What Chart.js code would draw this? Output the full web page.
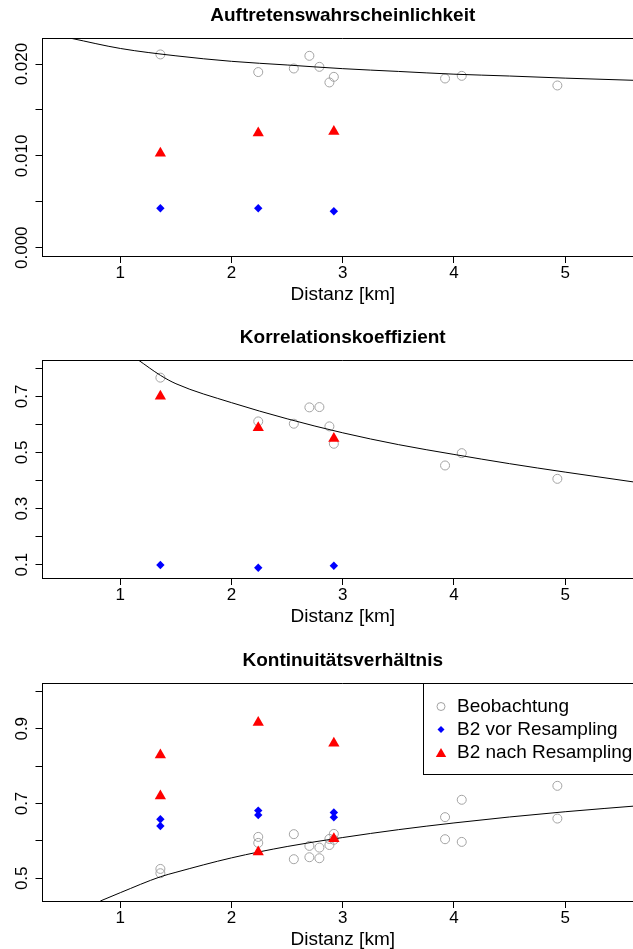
<!DOCTYPE html>
<html>
<head>
<meta charset="utf-8">
<script src="https://cdn.jsdelivr.net/npm/chart.js@4.4.0/dist/chart.umd.min.js"></script>
<style>
  html, body { margin: 0; padding: 0; background: #fff; overflow: hidden; width: 633px; height: 949px; }
  .panel { position: absolute; left: 0; width: 643px; height: 322px; }
</style>
</head>
<body>
<div class="panel" style="top:0px"><canvas id="c1" width="643" height="322"></canvas></div>
<div class="panel" style="top:322px"><canvas id="c2" width="643" height="322"></canvas></div>
<div class="panel" style="top:645px"><canvas id="c3" width="643" height="322"></canvas></div>
<script>
const FONT = '"Liberation Sans", Arial, Helvetica, sans-serif';

// shared x values (Distanz in km)
const distanz = [1.36, 2.24, 2.56, 2.70, 2.79, 2.88, 2.92, 3.92, 4.07, 4.93];
const distanzB2 = [1.36, 2.24, 2.92];
const xTicks = [1, 2, 3, 4, 5];

// Auftretenswahrscheinlichkeit
const auftretenBeob = [0.02105, 0.01913, 0.01952, 0.0209, 0.0197, 0.0180, 0.01861, 0.01843, 0.01872, 0.01767];
const auftretenVor = [0.0043, 0.0043, 0.00397];
const auftretenNach = [0.01029, 0.0125, 0.01266];
const auftretenKurveX = [0.56, 1, 1.5, 2, 2.5, 3, 3.5, 4, 4.5, 5, 5.7];
const auftretenKurveY = [0.0228, 0.0217, 0.0209, 0.0203, 0.0199, 0.0195, 0.0192, 0.0189, 0.0187, 0.01847, 0.0182];
const auftretenYTicks = [0, 0.005, 0.01, 0.015, 0.02];
const auftretenYLabels = ['0.000', '', '0.010', '', '0.020'];

// Korrelationskoeffizient
const korrBeob = [0.7667, 0.6107, 0.6025, 0.6607, 0.6618, 0.593, 0.531, 0.4536, 0.4975, 0.406];
const korrVor = [0.0989, 0.0893, 0.0964];
const korrNach = [0.700, 0.588, 0.5496];
const korrKurveX = [1.16, 1.36, 1.5, 2, 2.5, 3, 3.5, 4, 4.5, 5, 5.7];
const korrKurveY = [0.83, 0.775, 0.745, 0.6775, 0.62, 0.570, 0.528, 0.493, 0.46, 0.43, 0.39];
const korrYTicks = [0.1, 0.2, 0.3, 0.4, 0.5, 0.6, 0.7, 0.8];
const korrYLabels = ['0.1', '', '0.3', '', '0.5', '', '0.7', ''];

// Kontinuitaetsverhaeltnis (two values per distance)
const kontBeobA = [0.525, 0.6107, 0.618, 0.5866, 0.582, 0.6053, 0.6187, 0.6635, 0.71, 0.7473];
const kontBeobB = [0.5135, 0.5946, 0.551, 0.5563, 0.5536, 0.589, 0.603, 0.6045, 0.5973, 0.6597];
const kontVorA = [0.658, 0.681, 0.676];
const kontVorB = [0.640, 0.669, 0.663];
const kontNachA = [0.8295, 0.9169, 0.861];
const kontNachB = [0.720, 0.5705, 0.606];
const kontKurveX = [0.82, 1, 1.36, 1.5, 2, 2.5, 3, 3.5, 4, 4.5, 5, 5.7];
const kontKurveY = [0.4392, 0.4615, 0.504, 0.516, 0.5546, 0.585, 0.609, 0.630, 0.648, 0.664, 0.678, 0.695];
const kontYTicks = [0.5, 0.6, 0.7, 0.8, 0.9, 1.0];
const kontYLabels = ['0.5', '', '0.7', '', '0.9', ''];

const legendLabels = ['Beobachtung', 'B2 vor Resampling', 'B2 nach Resampling'];

function pts(xs, ys) {
    return ys.map((y, i) => ({ x: xs[i], y: y }));
}

const obsStyle = { pointStyle: 'circle', pointRadius: 4.5, pointBorderWidth: 1, pointBorderColor: '#a3a3a3', pointBackgroundColor: 'rgba(0,0,0,0)' };
const vorStyle = { pointStyle: 'rectRot', pointRadius: 4.2, pointBorderWidth: 0, pointBorderColor: '#0000ff', pointBackgroundColor: '#0000ff' };
const nachStyle = { pointStyle: 'triangle', pointRadius: 6.5, pointBorderWidth: 0, pointBorderColor: '#ff0000', pointBackgroundColor: '#ff0000' };

// draws title, rotated y labels, top frame line and (optionally) legend
const framePlugin = {
    id: 'frame',
    afterDraw(chart, args, opts) {
        const ctx = chart.ctx;
        const area = chart.chartArea;
        ctx.save();
        ctx.strokeStyle = '#000';
        ctx.lineWidth = 1;
        ctx.beginPath();
        ctx.moveTo(area.left, area.top + 0.5);
        ctx.lineTo(area.right, area.top + 0.5);
        ctx.stroke();

        ctx.fillStyle = '#000';
        ctx.font = 'bold 19px ' + FONT;
        ctx.textAlign = 'center';
        ctx.textBaseline = 'middle';
        ctx.fillText(opts.title, (area.left + area.right) / 2, 16);

        const yScale = chart.scales.y;
        ctx.font = '17px ' + FONT;
        opts.yTicks.forEach((v, i) => {
            const label = opts.yLabels[i];
            if (!label) return;
            ctx.save();
            ctx.translate(22.5, yScale.getPixelForValue(v));
            ctx.rotate(-Math.PI / 2);
            ctx.fillText(label, 0, 0);
            ctx.restore();
        });

        if (opts.legend) {
            const top = area.top + 0.5;
            ctx.fillStyle = '#fff';
            ctx.fillRect(423, top, 260, 91);
            ctx.strokeRect(423.5, top, 260, 91);
            ctx.fillStyle = '#000';
            ctx.font = '19px ' + FONT;
            ctx.textAlign = 'left';
            const styles = [obsStyle, vorStyle, nachStyle];
            const sizes = [4, 3.5, 6];
            legendLabels.forEach((txt, i) => {
                const y = top + 23 + i * 23;
                const s = styles[i];
                ctx.fillStyle = s.pointBackgroundColor;
                ctx.strokeStyle = s.pointBorderColor;
                ctx.lineWidth = s.pointBorderWidth || 0.01;
                Chart.helpers.drawPoint(ctx, { pointStyle: s.pointStyle, radius: sizes[i], rotation: 0, borderWidth: s.pointBorderWidth }, 441, y + (i === 2 ? 1.5 : 0));
                ctx.fillStyle = '#000';
                ctx.fillText(txt, 457, y);
            });
        }
        ctx.restore();
    }
};

function makePanel(id, p) {
    const datasets = [
        Object.assign({ label: legendLabels[2], data: pts(distanzB2, p.nach[0]), order: 0, showLine: false }, nachStyle),
        Object.assign({ label: legendLabels[1], data: pts(distanzB2, p.vor[0]), order: 1, showLine: false }, vorStyle),
        {
            label: 'Kurve', type: 'line', data: pts(p.kurveX, p.kurveY), order: 2,
            showLine: true, pointRadius: 0, borderColor: '#000', borderWidth: 1,
            cubicInterpolationMode: 'monotone', fill: false
        },
        Object.assign({ label: legendLabels[0], data: pts(distanz, p.beob[0]), order: 3, showLine: false }, obsStyle)
    ];
    if (p.beob[1]) datasets.push(Object.assign({ label: legendLabels[0], data: pts(distanz, p.beob[1]), order: 3, showLine: false }, obsStyle));
    if (p.vor[1]) datasets.push(Object.assign({ label: legendLabels[1], data: pts(distanzB2, p.vor[1]), order: 1, showLine: false }, vorStyle));
    if (p.nach[1]) datasets.push(Object.assign({ label: legendLabels[2], data: pts(distanzB2, p.nach[1]), order: 0, showLine: false }, nachStyle));

    return new Chart(document.getElementById(id), {
        type: 'scatter',
        data: { datasets: datasets },
        options: {
            responsive: false,
            animation: false,
            layout: { autoPadding: false, padding: { top: 38, left: 0, right: 0, bottom: 0 } },
            plugins: {
                legend: { display: false },
                tooltip: { enabled: false },
                frame: { title: p.title, yTicks: p.yTicks, yLabels: p.yLabels, legend: !!p.legend }
            },
            scales: {
                x: {
                    type: 'linear',
                    min: 0.30,
                    max: 5.70,
                    afterBuildTicks: (scale) => { scale.ticks = xTicks.map(v => ({ value: v })); },
                    afterFit: (scale) => {
                        scale.height = 66;
                        scale.paddingLeft = 0;
                        scale.paddingRight = 0;
                    },
                    border: { display: true, color: '#000', width: 1 },
                    grid: { display: true, drawOnChartArea: false, drawTicks: true, tickLength: 7, color: '#000' },
                    ticks: { color: '#000', font: { family: FONT, size: 17 }, padding: 0, maxRotation: 0, callback: (v) => String(v) },
                    title: { display: true, text: 'Distanz [km]', color: '#000', font: { family: FONT, size: 19 }, padding: { top: 0, bottom: 16 } }
                },
                y: {
                    type: 'linear',
                    min: p.yMin,
                    max: p.yMax,
                    afterBuildTicks: (scale) => { scale.ticks = p.yTicks.map(v => ({ value: v })); },
                    afterFit: (scale) => {
                        scale.width = 42.5;
                        scale.paddingTop = 0;
                        scale.paddingBottom = 0;
                    },
                    border: { display: true, color: '#000', width: 1 },
                    grid: { display: true, drawOnChartArea: false, drawTicks: true, tickLength: 7, color: '#000' },
                    ticks: { display: false }
                }
            }
        },
        plugins: [framePlugin]
    });
}

makePanel('c1', {
    title: 'Auftretenswahrscheinlichkeit',
    beob: [auftretenBeob], vor: [auftretenVor], nach: [auftretenNach],
    kurveX: auftretenKurveX, kurveY: auftretenKurveY,
    yMin: -0.0009, yMax: 0.02284, yTicks: auftretenYTicks, yLabels: auftretenYLabels
});

makePanel('c2', {
    title: 'Korrelationskoeffizient',
    beob: [korrBeob], vor: [korrVor], nach: [korrNach],
    kurveX: korrKurveX, kurveY: korrKurveY,
    yMin: 0.0525, yMax: 0.8296, yTicks: korrYTicks, yLabels: korrYLabels
});

makePanel('c3', {
    title: 'Kontinuitätsverhältnis',
    beob: [kontBeobA, kontBeobB], vor: [kontVorA, kontVorB], nach: [kontNachA, kontNachB],
    kurveX: kontKurveX, kurveY: kontKurveY,
    yMin: 0.4392, yMax: 1.0224, yTicks: kontYTicks, yLabels: kontYLabels,
    legend: true
});
</script>
</body>
</html>
